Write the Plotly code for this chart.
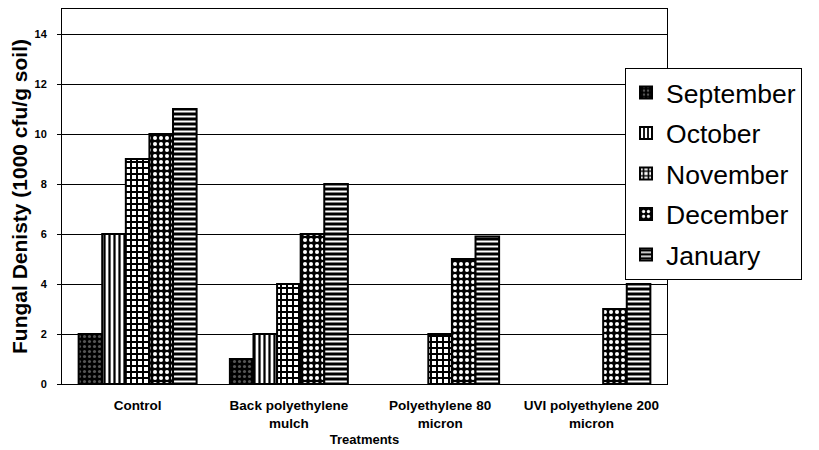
import plotly.graph_objects as go

categories = ["Control", "Back polyethylene<br>mulch", "Polyethylene 80<br>micron", "UVI polyethylene 200<br>micron"]
months = ["September", "October", "November", "December", "January"]
september = [2, 1, 0, 0]
october = [6, 2, 0, 0]
november = [9, 4, 2, 0]
december = [10, 6, 5, 3]
january = [11, 8, 5.9, 4]
y_ticks = [0, 2, 4, 6, 8, 10, 12, 14]

series = [september, october, november, december, january]
patterns = [
    dict(shape=".", bgcolor="black", fgcolor="#555555", size=5, solidity=0.3),
    dict(shape="|", bgcolor="white", fgcolor="black", size=5, solidity=0.45),
    dict(shape="+", bgcolor="white", fgcolor="black", size=6, solidity=0.55),
    dict(shape=".", bgcolor="black", fgcolor="white", size=6, solidity=0.35),
    dict(shape="-", bgcolor="black", fgcolor="white", size=5, solidity=0.4),
]

fig = go.Figure()
for i, (name, vals) in enumerate(zip(months, series)):
    fig.add_trace(go.Bar(
        x=categories, y=vals, name=name, legendgroup=name,
        marker=dict(color=patterns[i]["bgcolor"],
                    line=dict(color="black", width=[2 if v > 0 else 0 for v in vals]),
                    pattern=dict(shape=patterns[i]["shape"], bgcolor=patterns[i]["bgcolor"],
                                 fgcolor=patterns[i]["fgcolor"], size=patterns[i]["size"],
                                 solidity=patterns[i]["solidity"], fillmode="replace")),
    ))

fig.update_layout(
    width=811, height=443,
    margin=dict(l=54, r=152, t=1, b=67),
    paper_bgcolor="white", plot_bgcolor="white",
    barmode="group", bargap=0.22, bargroupgap=0,
    font=dict(family="Liberation Sans, Arial, sans-serif", color="black"),
    showlegend=True,
    legend=dict(x=0.9306, y=0.843, xanchor="left", yanchor="top",
                bgcolor="white", bordercolor="black", borderwidth=1,
                font=dict(size=26.5, color="black"), tracegroupgap=3,
                itemwidth=30),
    xaxis=dict(showline=True, linecolor="black", linewidth=1, mirror=True,
               tickfont=dict(size=13.5, weight="bold"),
               ticklabelstandoff=9,
               title=dict(text="<b>Treatments</b>", font=dict(size=13), standoff=5),
               ticks=""),
    yaxis=dict(range=[0, 15], tickvals=y_ticks, showgrid=True, gridcolor="black", gridwidth=1,
               showline=True, linecolor="black", linewidth=1, mirror=True,
               ticks="outside", ticklen=4, tickcolor="black",
               ticklabelstandoff=8,
               tickfont=dict(size=11, weight="bold"),
               title=dict(text="<b>Fungal Denisty (1000 cfu/g soil)</b>", font=dict(size=21), standoff=5)),
)

fig.write_html("out.html")
